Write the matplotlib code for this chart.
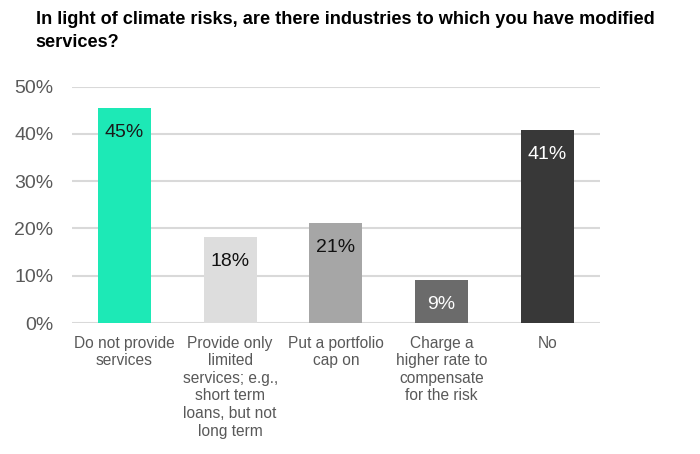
import matplotlib
matplotlib.use("Agg")
import matplotlib.pyplot as plt
from matplotlib.ticker import PercentFormatter

title = "In light of climate risks, are there industries to which you have modified\nservices?"
categories = [
    "Do not provide\nservices",
    "Provide only\nlimited\nservices; e.g.,\nshort term\nloans, but not\nlong term",
    "Put a portfolio\ncap on",
    "Charge a\nhigher rate to\ncompensate\nfor the risk",
    "No",
]
values = [45.4, 18.1, 21.2, 9.0, 40.9]
labels = ["45%", "18%", "21%", "9%", "41%"]
bar_colors = ["#1DE9B6", "#DDDDDD", "#A6A6A6", "#6B6B6B", "#383838"]
label_colors = ["#1a1a1a", "#111111", "#111111", "#FFFFFF", "#FFFFFF"]
yticks = [0, 10, 20, 30, 40, 50]

regular = ["Liberation Sans", "DejaVu Sans"]

fig = plt.figure(figsize=(7.0, 4.54), dpi=100)
ax = fig.add_axes([0.1024, 0.2885, 0.7547, 0.5205])

x = list(range(len(categories)))
ax.bar(x, values, width=0.5, color=bar_colors, zorder=3)
ax.set_xlim(-0.5, len(categories) - 0.5)
ax.set_ylim(0, 50)
ax.set_yticks(yticks)
ax.yaxis.set_major_formatter(PercentFormatter(decimals=0))
ax.grid(axis="y", color="#D9D9D9", linewidth=1.5, zorder=0)
ax.set_axisbelow(True)
for s in ax.spines.values():
    s.set_visible(False)
ax.tick_params(axis="y", length=0, pad=13, labelcolor="#595959", labelsize=14)
ax.tick_params(axis="x", length=0, pad=9)
for t in ax.get_yticklabels():
    t.set_family(regular)
ax.set_xticks(x)
ax.set_xticklabels(categories, fontsize=11.2, color="#595959", family=regular,
                   linespacing=1.22, va="top", ha="center")

for xi, v, lab, c in zip(x, values, labels, label_colors):
    ax.annotate(lab, (xi, v), xytext=(0, -17.5), textcoords="offset points",
                ha="center", va="center", fontsize=14, color=c, family=regular)

fig.text(0.051, 0.975, title, ha="left", va="top", fontsize=13.1, fontweight="bold",
         color="#000000", family=regular, linespacing=1.4)

fig.savefig("out.png", dpi=100, facecolor="white")
